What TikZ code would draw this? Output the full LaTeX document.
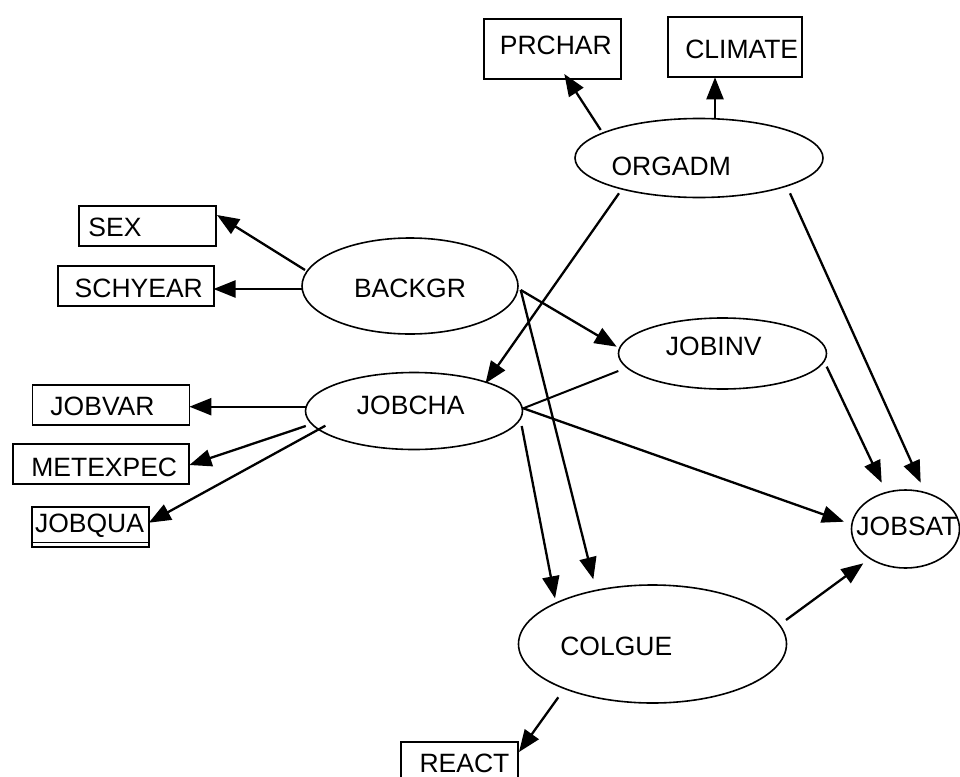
\documentclass[tikz,border=0pt]{standalone}
\usepackage{fontspec}
\setmainfont{Liberation Sans}
\usetikzlibrary{shapes.geometric,arrows.meta}

\tikzset{
  latent/.style={draw, ellipse, line width=1.6pt, inner sep=0pt},
  observed/.style={draw, rectangle, line width=1.7pt, inner sep=0pt},
  causal/.style={line width=2.3pt, -{Triangle[length=22pt,width=17pt]}},
  link/.style={line width=2pt},
  every label/.style={font=\fontsize{26.5}{30}\selectfont, inner sep=0pt},
}

\begin{document}
\begin{tikzpicture}[x=1pt,y=-1pt]
  \useasboundingbox (0,0) rectangle (960,776);
  \clip (0,0) rectangle (960,776);
  \fill[white] (0,0) rectangle (960,776);

  % latent constructs
  \node[latent, minimum width=248, minimum height=79,
        label={[shift={(-27.8,8.7)}]center:ORGADM}] (orgadm) at (699,158) {};
  \node[latent, minimum width=216, minimum height=96,
        label={[shift={(0,2)}]center:BACKGR}] (backgr) at (410,286) {};
  \node[latent, minimum width=217, minimum height=77,
        label={[shift={(-3.3,-5.2)}]center:JOBCHA}] (jobcha) at (414,411) {};
  \node[latent, minimum width=208, minimum height=71,
        label={[shift={(-8.7,-6.8)}]center:JOBINV}] (jobinv) at (722.5,353.5) {};
  \node[latent, minimum width=108, minimum height=78,
        label={[shift={(1.5,-3)}]center:JOBSAT}] (jobsat) at (905.5,529) {};
  \node[latent, minimum width=268, minimum height=118,
        label={[shift={(-36.2,2.3)}]center:COLGUE}] (colgue) at (652.5,644) {};

  % observed indicators
  \node[observed, minimum width=137, minimum height=60,
        label={[shift={(3.5,-3.4)}]center:PRCHAR}] (prchar) at (552.3,49.2) {};
  \node[observed, minimum width=134, minimum height=59.5,
        label={[shift={(6.4,2.2)}]center:CLIMATE}] (climate) at (735.3,47) {};
  \node[observed, minimum width=137, minimum height=40,
        label={[shift={(-32.5,1.5)}]center:SEX}] (sex) at (147.5,226) {};
  \node[observed, minimum width=156, minimum height=40,
        label={[shift={(2.8,2)}]center:SCHYEAR}] (schyear) at (136,286) {};
  \node[observed, minimum width=157, minimum height=40,
        label={[shift={(-8.5,1)}]center:JOBVAR}] (jobvar) at (111,405) {};
  \node[observed, minimum width=176, minimum height=40,
        label={[shift={(3.5,2.7)}]center:METEXPEC}] (metexpec) at (100.7,464.3) {};
  \node[observed, minimum width=117, minimum height=40,
        label={[shift={(-0.7,-1.5)}]center:JOBQUA}] (jobqua) at (90.2,527) {};
  \node[observed, minimum width=117, minimum height=50,
        label={[shift={(5,-4)}]center:REACT}] (react) at (459.5,767) {};

  % second rule under JOBQUA
  \draw[line width=1.1pt] ([yshift=5pt]jobqua.south west) -- ([yshift=5pt]jobqua.south east);

  % ORGADM paths
  \draw[causal] ([shift={(-98.3,-28)}]orgadm.center) -- ([shift={(12,24.8)}]prchar.center);
  \draw[causal] ([shift={(16,-40)}]orgadm.center) -- ([shift={(-20.3,30.3)}]climate.center);
  \draw[causal] ([shift={(-80,35.3)}]orgadm.center) -- ([shift={(71.5,-27.7)}]jobcha.center);
  \draw[causal] ([shift={(91,35.3)}]orgadm.center) -- ([shift={(15.2,-46.3)}]jobsat.center);

  % BACKGR paths
  \draw[causal] ([shift={(-105,-16)}]backgr.center) -- ([shift={(69.5,-11)}]sex.center);
  \draw[causal] ([shift={(-108,3)}]backgr.center) -- ([shift={(77.5,3)}]schyear.center);
  \draw[causal] ([shift={(110.7,4)}]backgr.center) -- ([shift={(-105.8,-6.8)}]jobinv.center);
  \draw[causal] ([shift={(110.7,4)}]backgr.center) -- ([shift={(-59.2,-64.7)}]colgue.center);

  % JOBINV paths
  \draw[link] ([shift={(-104.2,17.5)}]jobinv.center) -- ([shift={(109.3,-2.7)}]jobcha.center);
  \draw[causal] ([shift={(104.2,13.2)}]jobinv.center) -- ([shift={(-23.8,-46.3)}]jobsat.center);

  % JOBCHA paths
  \draw[causal] ([shift={(-108.2,-4.3)}]jobcha.center) -- ([shift={(78.4,1.7)}]jobvar.center);
  \draw[causal] ([shift={(-108.2,15)}]jobcha.center) -- ([shift={(88.7,0.7)}]metexpec.center);
  \draw[causal] ([shift={(-88.6,14.7)}]jobcha.center) -- ([shift={(58.6,-4.3)}]jobqua.center);
  \draw[causal] ([shift={(109.3,-2.7)}]jobcha.center) -- ([shift={(-61.5,-7.3)}]jobsat.center);
  \draw[causal] ([shift={(107.7,15)}]jobcha.center) -- ([shift={(-97.5,-45.7)}]colgue.center);

  % COLGUE paths
  \draw[causal] ([shift={(133.5,-24)}]colgue.center) -- ([shift={(-42.2,34.3)}]jobsat.center);
  \draw[causal] ([shift={(-94.2,53.3)}]colgue.center) -- ([shift={(59.5,-15)}]react.center);
\end{tikzpicture}
\end{document}
